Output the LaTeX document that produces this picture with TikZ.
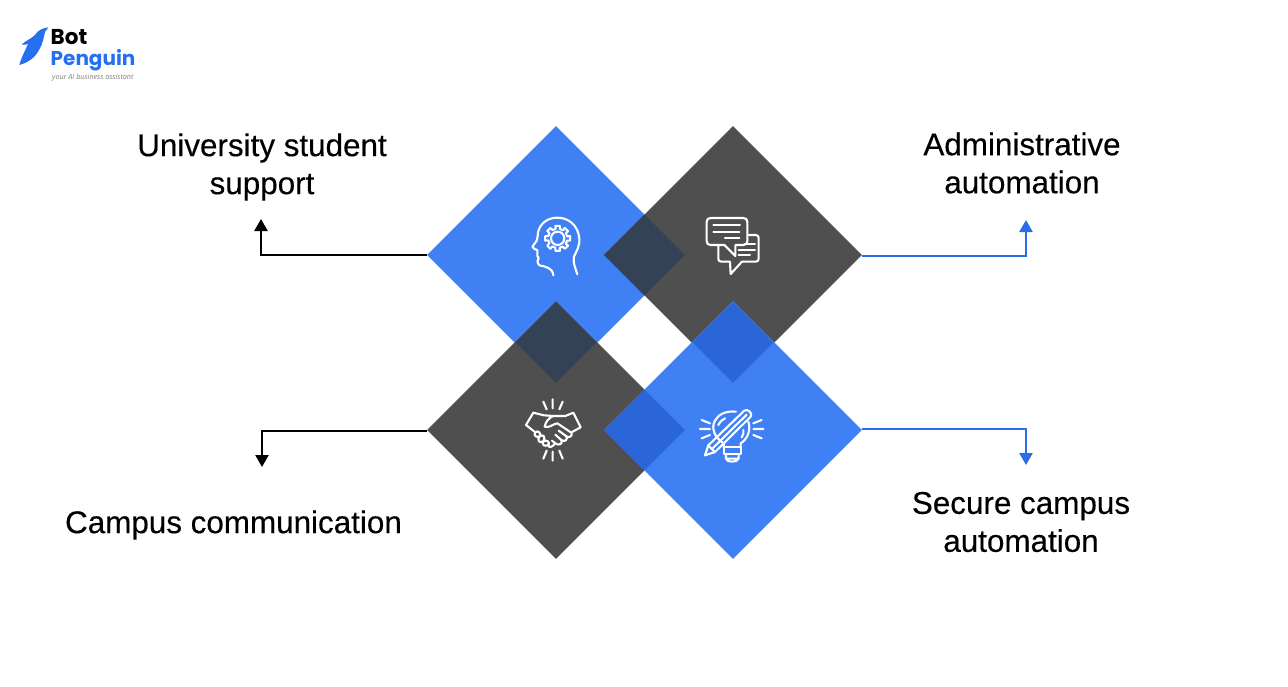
\documentclass[tikz,border=0pt]{standalone}
\usepackage{fontspec}
\setmainfont{Liberation Sans}[FakeBold=0.3]
\newfontfamily\logofont{Poppins}
\newfontfamily\tagfont{Open Sans}
\usetikzlibrary{shapes.geometric,arrows.meta}
\definecolor{bblue}{HTML}{4080F5}
\definecolor{bgray}{HTML}{4F4F4F}
\definecolor{bnavy}{HTML}{344256}
\definecolor{bdeep}{HTML}{2A66D8}
\definecolor{barrow}{HTML}{2A6DE8}
\definecolor{blogo}{HTML}{2470F0}
\tikzset{
  dia/.style={diamond,aspect=1,inner sep=0pt,minimum width=258pt,minimum height=258pt,draw=none},
  lap/.style={diamond,aspect=1,inner sep=0pt,minimum width=81pt,minimum height=81pt,draw=none},
  lbl/.style={align=center,font=\fontsize{31.4}{38}\selectfont,text=black},
  conn/.style={line width=2.4pt,-{Triangle[length=12pt,width=13pt]}},
  icon/.style={draw=white,line width=2.1pt,line cap=round,line join=round,fill=none}
}
\begin{document}
\begin{tikzpicture}[x=1pt,y=-1pt]
\useasboundingbox (0,0) rectangle (1288,686);
\fill[white] (0,0) rectangle (1288,686);
% diamonds
\node[dia,fill=bblue] (tl) at (556,255) {};
\node[dia,fill=bgray] (tr) at (733,255) {};
\node[dia,fill=bgray] (bl) at (556,430) {};
\node[dia,fill=bblue] (br) at (733,430) {};
\node[lap,fill=bnavy] (ltop) at (644.5,255) {};
\node[lap,fill=bnavy] (lleft) at (556,342.5) {};
\node[lap,fill=bdeep] (lright) at (733,342.5) {};
\node[lap,fill=bdeep] (lbot) at (644.5,430) {};
% labels
\node[lbl] (t1) at (262,167) {University student\\support};
\node[lbl] (t2) at (1022,163) {Administrative\\automation};
\node[lbl] (t3) at (233.5,525) {Campus communication};
\node[lbl] (t4) at (1021,522) {Secure campus\\automation};
% connectors
\coordinate (e1) at (261,219);
\coordinate (e2) at (1026,220);
\coordinate (e3) at (262,467);
\coordinate (e4) at (1026,465);
\draw[conn,black] ([yshift=0pt]tl.west) -| (e1);
\draw[conn,barrow] ([yshift=-1pt]tr.east) -| (e2);
\draw[conn,black] ([yshift=-1pt]bl.west) -| (e3);
\draw[conn,barrow] ([yshift=1pt]br.east) -| (e4);
% head icon
\begin{scope}[shift={(500,190)},x=0.3333pt,y=-0.3333pt]
\draw[icon] (232,253) .. controls (226,232) and (218,218) .. (222,200) .. controls (228,185) and (240,170) .. (238,145) .. controls (234,105) and (205,83) .. (172,83) .. controls (135,83) and (112,110) .. (113,140) .. controls (114,150) and (108,155) .. (97,170) .. controls (100,178) and (108,178) .. (112,180) -- (112,198) .. controls (122,205) and (108,210) .. (114,220) .. controls (116,230) and (130,226) .. (140,232) .. controls (152,236) and (160,245) .. (160,256);
\begin{scope}[shift={(173,145)}]
\draw[icon] (0,0) circle (20);
\draw[icon] (-12:29) \foreach \a in {0,45,...,315}{ -- (\a-10:38) -- (\a+10:38) -- (\a+14:29) -- (\a+33:29) } -- cycle;
\end{scope}
\end{scope}
% chat icon
\begin{scope}[shift={(500,190)},x=0.3333pt,y=-0.3333pt]
\draw[icon] (632,84) -- (730,84) .. controls (738,84) and (742,88) .. (742,96) -- (742,153) .. controls (742,161) and (738,165) .. (730,165) -- (706,165) -- (706,198) -- (673,165) -- (632,165) .. controls (624,165) and (620,161) .. (620,153) -- (620,96) .. controls (620,88) and (624,84) .. (632,84) -- cycle;
\draw[icon] (746,135) -- (767,135) .. controls (773,135) and (776,138) .. (776,144) -- (776,206) .. controls (776,212) and (773,215) .. (767,215) -- (726,215) -- (692,252) -- (690,215) -- (664,215) .. controls (658,215) and (655,212) .. (655,206) -- (655,165);
\draw[icon] (640,105) -- (720,105) (640,125) -- (718,125) (675,143) -- (718,143);
\draw[icon] (716,180) -- (765,180) (716,195) -- (750,195) (735,163) -- (765,163);
\end{scope}
% handshake icon
\begin{scope}[shift={(500,380)},x=0.3333pt,y=-0.3333pt]
\draw[icon] (130,65) -- (140,88) (158,58) -- (158,85) (188,65) -- (178,88);
\draw[icon] (130,236) -- (140,212) (158,215) -- (158,242) (188,236) -- (178,212);
\draw[icon] (78,135) -- (100,98) -- (132,106) -- (160,108) -- (196,108) -- (220,98) -- (242,142) -- (216,156);
\draw[icon] (78,135) -- (106,157);
\draw[icon] (160,108) .. controls (146,112) and (136,128) .. (134,140) .. controls (146,146) and (158,132) .. (172,130) -- (214,158) .. controls (220,168) and (206,176) .. (198,168) -- (176,152);
\draw[icon] (198,168) .. controls (206,178) and (194,188) .. (184,180) -- (166,164);
\draw[icon] (184,180) .. controls (190,192) and (176,198) .. (166,190) -- (156,182);
\draw[icon] (106,157) .. controls (98,166) and (112,176) .. (120,168) .. controls (110,178) and (116,192) .. (130,184) .. controls (124,194) and (134,202) .. (146,194) .. controls (142,202) and (154,206) .. (166,190);
\draw[icon] (106,157) .. controls (112,150) and (124,158) .. (120,168) (120,168) .. controls (130,162) and (138,172) .. (130,184) (130,184) .. controls (140,178) and (150,186) .. (146,194);
\end{scope}
% bulb icon
\begin{scope}[shift={(500,380)},x=0.3333pt,y=-0.3333pt]
\draw[icon] (605,120) -- (630,130) (600,147) -- (630,147) (605,175) -- (630,165);
\draw[icon] (785,120) -- (760,130) (790,147) -- (760,147) (785,175) -- (760,165);
\draw[icon] (668,188) .. controls (645,172) and (632,145) .. (645,122) .. controls (655,102) and (680,92) .. (708,95);
\draw[icon] (745,125) .. controls (754,150) and (742,178) .. (722,190) -- (722,200);
\draw[icon] (670,200) -- (722,200) -- (722,222) -- (672,222) -- (672,190);
\draw[icon] (678,222) -- (678,236) .. controls (680,248) and (712,248) .. (716,236) -- (716,222) (678,236) -- (716,236);
\draw[icon] (615,226) -- (625,196) -- (733,92) .. controls (742,84) and (760,100) .. (752,110) -- (645,216) -- cycle;
\draw[icon] (625,196) -- (645,216) (637,206) -- (740,104);
\draw[icon] (655,135) .. controls (660,125) and (668,118) .. (675,115);
\draw[icon] (730,150) .. controls (732,158) and (730,165) .. (725,172);
\end{scope}
% logo
\node[inner sep=0pt,anchor=base west,font=\logofont\fontsize{21.5}{21.5}\selectfont\bfseries,text=black] (lg1) at (50.5,44) {Bot};
\node[inner sep=0pt,anchor=base west,font=\logofont\fontsize{20}{20}\selectfont\bfseries,text=blogo] (lg2) at (50.5,65.5) {Penguin};
\node[inner sep=0pt,anchor=base west,font=\tagfont\fontsize{7.2}{7.2}\selectfont\itshape,text=gray] (lg3) at (52,79) {your AI business assistant};
\fill[blogo] (48.3,27.3) .. controls (43,28) and (38,30) .. (35,35) .. controls (31,39) and (25,41) .. (21.7,44.5) .. controls (24,45) and (26,44.8) .. (28,44) .. controls (25,51) and (21,58) .. (19.3,65) .. controls (27,63) and (35,58) .. (39,50) .. controls (43,44) and (44,36) .. (45,32) -- cycle;
\end{tikzpicture}
\end{document}
